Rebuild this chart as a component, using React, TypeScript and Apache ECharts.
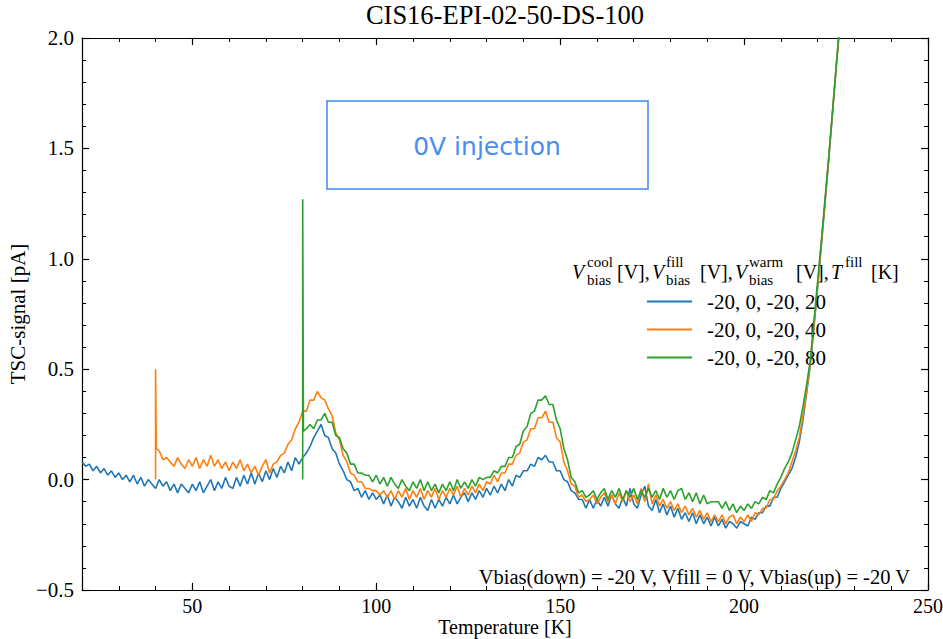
import React, { useEffect, useRef } from 'react';
import * as echarts from 'echarts';

const SERIF = '"Liberation Serif", "DejaVu Serif", serif';
const SANS = '"DejaVu Sans", sans-serif';

const chartTitle = 'CIS16-EPI-02-50-DS-100';
const xLabel = 'Temperature [K]';
const yLabel = 'TSC-signal [pA]';
const xMajorTicks = [50, 100, 150, 200, 250];
const seriesNames = ['-20, 0, -20, 20', '-20, 0, -20, 40', '-20, 0, -20, 80'];
const seriesColors = ['#1f77b4', '#ff7f0e', '#2ca02c'];
const boxText = '0V injection';
const noteText = 'Vbias(down) = -20 V, Vfill = 0 V, Vbias(up) = -20 V';

// blue: T = 20 ... 226 K, 1 K steps
const blueStart = 20;
const blueValues = [
  0.08, 0.06, 0.07, 0.04, 0.06, 0.03, 0.05, 0.02, 0.04, 0.01,
  0.03, 0.0, 0.02, -0.01, 0.02, -0.02, 0.01, -0.03, 0.0, -0.02,
  -0.04, 0.0, -0.03, -0.01, -0.05, -0.02, -0.06, -0.02, -0.04, -0.06,
  -0.02, -0.05, -0.01, -0.06, -0.03, 0.0, -0.05, -0.01, -0.04, 0.01,
  -0.03, -0.04, 0.01, -0.03, 0.02, -0.02, 0.03, -0.02, 0.03, -0.01,
  0.04, 0.0, 0.05, 0.01, 0.06, 0.03, 0.08, 0.04, 0.1, 0.07,
  0.1, 0.12, 0.15, 0.19, 0.22, 0.25, 0.2, 0.19, 0.14, 0.12,
  0.07, 0.04, 0.0, -0.01, -0.05, -0.04, -0.08, -0.05, -0.09, -0.06,
  -0.09, -0.07, -0.11, -0.07, -0.12, -0.08, -0.1, -0.13, -0.08, -0.12,
  -0.09, -0.13, -0.08, -0.12, -0.14, -0.09, -0.13, -0.09, -0.12, -0.08,
  -0.11, -0.07, -0.11, -0.08, -0.06, -0.1, -0.06, -0.09, -0.05, -0.08,
  -0.04, -0.07, -0.03, -0.06, -0.02, -0.05, 0.0, -0.03, 0.02, 0.01,
  0.04, 0.04, 0.07, 0.06, 0.1, 0.09, 0.11, 0.08, 0.08, 0.04,
  0.04, 0.0, -0.01, -0.05, -0.06, -0.09, -0.09, -0.13, -0.09, -0.13,
  -0.09, -0.12, -0.08, -0.12, -0.07, -0.11, -0.13, -0.08, -0.12, -0.04,
  -0.11, -0.13, -0.07, -0.03, -0.12, -0.14, -0.09, -0.15, -0.11, -0.16,
  -0.12, -0.17, -0.13, -0.18, -0.15, -0.19, -0.15, -0.2, -0.16, -0.2,
  -0.17, -0.21, -0.17, -0.21, -0.18, -0.22, -0.19, -0.2, -0.22, -0.19,
  -0.2, -0.21, -0.17, -0.18, -0.15, -0.15, -0.12, -0.12, -0.08, -0.08,
  -0.04, -0.01, 0.02, 0.05, 0.1, 0.17, 0.27, 0.39, 0.52, 0.69,
  0.87, 1.06, 1.25, 1.45, 1.65, 1.86, 2.06,
];

// orange: spike at 40 K, then T = 41 ... 226 K
const orangeSpike = [[40, 0.0], [40, 0.5], [40.2, 0.14]];
const orangeStart = 41;
const orangeValues = [
  0.13, 0.09, 0.1, 0.08, 0.06, 0.1, 0.07, 0.05, 0.09,
  0.06, 0.1, 0.05, 0.09, 0.06, 0.11, 0.06, 0.09, 0.05, 0.08,
  0.04, 0.08, 0.05, 0.09, 0.04, 0.07, 0.03, 0.06, 0.02, 0.06,
  0.09, 0.03, 0.07, 0.08, 0.11, 0.12, 0.16, 0.18, 0.23, 0.26,
  0.31, 0.31, 0.36, 0.36, 0.4, 0.37, 0.36, 0.32, 0.29, 0.21,
  0.18, 0.11, 0.08, 0.03, 0.02, -0.01, -0.01, -0.04, -0.04, -0.05,
  -0.05, -0.07, -0.05, -0.08, -0.05, -0.09, -0.05, -0.08, -0.04, -0.09,
  -0.05, -0.08, -0.04, -0.09, -0.05, -0.08, -0.04, -0.09, -0.05, -0.08,
  -0.04, -0.07, -0.03, -0.08, -0.04, -0.07, -0.03, -0.06, -0.02, -0.05,
  -0.01, -0.02, 0.02, -0.01, 0.03, 0.03, 0.07, 0.07, 0.11, 0.12,
  0.17, 0.18, 0.23, 0.23, 0.28, 0.28, 0.31, 0.26, 0.26, 0.19,
  0.17, 0.08, 0.04, -0.02, -0.03, -0.08, -0.07, -0.1, -0.09, -0.07,
  -0.11, -0.08, -0.06, -0.1, -0.07, -0.11, -0.06, -0.1, -0.05, -0.1,
  -0.07, -0.11, -0.04, -0.1, -0.02, -0.11, -0.07, -0.12, -0.09, -0.13,
  -0.1, -0.14, -0.11, -0.15, -0.12, -0.16, -0.13, -0.17, -0.14, -0.18,
  -0.15, -0.19, -0.16, -0.19, -0.16, -0.2, -0.17, -0.16, -0.2, -0.17,
  -0.19, -0.16, -0.19, -0.15, -0.16, -0.13, -0.13, -0.09, -0.09, -0.05,
  -0.03, 0.0, 0.03, 0.08, 0.13, 0.19, 0.29, 0.4, 0.53, 0.7,
  0.88, 1.07, 1.26, 1.45, 1.66, 1.86, 2.06,
];

// green: spike at 80 K, then T = 81 ... 226 K
const greenSpike = [[80, 0.0], [80, 1.27], [80.2, 0.22]];
const greenStart = 81;
const greenValues = [
  0.23, 0.25, 0.23, 0.27, 0.27, 0.3, 0.26, 0.26, 0.2,
  0.19, 0.14, 0.12, 0.07, 0.07, 0.03, 0.03, 0.02, 0.02, -0.01,
  0.02, -0.02, 0.01, -0.03, 0.01, -0.02, -0.04, 0.0, -0.03, -0.05,
  -0.01, -0.04, 0.0, -0.05, -0.01, -0.05, -0.02, -0.06, -0.02, -0.05,
  -0.01, -0.05, 0.0, -0.04, -0.01, -0.04, 0.0, -0.03, 0.01, 0.0,
  0.01, 0.01, 0.04, 0.03, 0.06, 0.06, 0.1, 0.1, 0.15, 0.16,
  0.22, 0.24, 0.3, 0.31, 0.36, 0.36, 0.38, 0.34, 0.34, 0.27,
  0.23, 0.14, 0.09, 0.01, -0.01, -0.06, -0.05, -0.08, -0.07, -0.05,
  -0.09, -0.06, -0.04, -0.09, -0.05, -0.08, -0.04, -0.09, -0.05, -0.08,
  -0.04, -0.09, -0.05, -0.08, -0.04, -0.08, -0.05, -0.09, -0.04, -0.08,
  -0.05, -0.09, -0.05, -0.04, -0.09, -0.06, -0.1, -0.06, -0.11, -0.07,
  -0.11, -0.1, -0.1, -0.1, -0.13, -0.1, -0.14, -0.11, -0.15, -0.12,
  -0.14, -0.11, -0.13, -0.1, -0.11, -0.08, -0.09, -0.05, -0.06, -0.02,
  0.01, 0.05, 0.08, 0.12, 0.18, 0.24, 0.33, 0.43, 0.54, 0.72,
  0.9, 1.08, 1.27, 1.46, 1.66, 1.86, 2.06,
];

const toPairs = (start: number, vals: number[]) => vals.map((v, i) => [start + i, v]);

const blueData = toPairs(blueStart, blueValues);
const orangeData = [...orangeSpike, ...toPairs(orangeStart, orangeValues)];
const greenData = [...greenSpike, ...toPairs(greenStart, greenValues)];

const axisColor = '#000';

function majorX(position: 'top' | 'bottom', withLabels: boolean) {
  return {
    type: 'value',
    position,
    min: 20,
    max: 250,
    axisLine: { show: true, onZero: false, lineStyle: { color: axisColor, width: 1.2 } },
    axisTick: { show: true, inside: true, length: 7, customValues: xMajorTicks, lineStyle: { color: axisColor, width: 1.2 } },
    axisLabel: withLabels
      ? { show: true, customValues: xMajorTicks, fontFamily: SERIF, fontSize: 20, lineHeight: 18, color: '#000', margin: 7 }
      : { show: false },
    splitLine: { show: false },
    ...(withLabels
      ? {
          name: xLabel,
          nameLocation: 'middle',
          nameGap: 28,
          nameMoveOverlap: false,
          nameTextStyle: { fontFamily: SERIF, fontSize: 20, lineHeight: 18, color: '#000' },
        }
      : {}),
  };
}

function minorX(position: 'top' | 'bottom') {
  return {
    type: 'value',
    position,
    min: 20,
    max: 250,
    interval: 10,
    axisLine: { show: false, onZero: false },
    axisTick: { show: true, inside: true, length: 4, lineStyle: { color: axisColor, width: 1 } },
    axisLabel: { show: false },
    splitLine: { show: false },
  };
}

function yAx(position: 'left' | 'right', withLabels: boolean) {
  return {
    type: 'value',
    position,
    min: -0.5,
    max: 2.0,
    interval: 0.5,
    axisLine: { show: true, onZero: false, lineStyle: { color: axisColor, width: 1.2 } },
    axisTick: { show: true, inside: true, length: 7, lineStyle: { color: axisColor, width: 1.2 } },
    minorTick: { show: true, splitNumber: 5, length: 4, lineStyle: { color: axisColor, width: 1 } },
    axisLabel: withLabels
      ? {
          show: true,
          fontFamily: SERIF,
          fontSize: 21,
          color: '#000',
          margin: 8,
          formatter: (v: number) => v.toFixed(1).replace('-', '\u2212'),
        }
      : { show: false },
    splitLine: { show: false },
    minorSplitLine: { show: false },
    ...(withLabels
      ? {
          name: yLabel,
          nameLocation: 'middle',
          nameGap: 54,
          nameRotate: 90,
          nameMoveOverlap: false,
          nameTextStyle: { fontFamily: SERIF, fontSize: 21, color: '#000' },
        }
      : {}),
  };
}

function txt(x: number, y: number, text: string, size: number, opts: any = {}) {
  return {
    type: 'text',
    x,
    y,
    silent: true,
    style: {
      text,
      fill: opts.fill || '#000',
      fontFamily: opts.family || SERIF,
      fontSize: size,
      fontStyle: opts.italic ? 'italic' : 'normal',
      align: opts.align || 'left',
      verticalAlign: 'middle',
      textAlign: opts.align || 'left',
      textVerticalAlign: 'middle',
    },
  };
}

const legendTitle = [
  txt(572, 272, 'V', 20, { italic: true }),
  txt(587, 262, 'cool', 15),
  txt(587, 280, 'bias', 15),
  txt(617, 272, '[V],', 20),
  txt(652, 272, 'V', 20, { italic: true }),
  txt(666, 262, 'fill', 15),
  txt(666, 280, 'bias', 15),
  txt(700, 272, '[V],', 20),
  txt(735, 272, 'V', 20, { italic: true }),
  txt(749, 262, 'warm', 15),
  txt(749, 280, 'bias', 15),
  txt(796, 272, '[V],', 20),
  txt(831, 272, 'T', 20, { italic: true }),
  txt(845, 262, 'fill', 15),
  txt(871, 272, '[K]', 20),
];

const option: any = {
  animation: false,
  backgroundColor: '#fff',
  title: {
    text: chartTitle,
    left: 505,
    top: 1,
    padding: 0,
    textAlign: 'center',
    textStyle: { fontFamily: SERIF, fontSize: 26.5, fontWeight: 'normal', color: '#000' },
  },
  grid: { left: 82, right: 15, top: 38, bottom: 49, containLabel: false, outerBoundsMode: 'none' },
  xAxis: [majorX('bottom', true), minorX('bottom'), majorX('top', false), minorX('top')],
  yAxis: [yAx('left', true), yAx('right', false)],
  legend: {
    orient: 'vertical',
    left: 647,
    top: 291,
    padding: 0,
    icon: 'rect',
    itemWidth: 45,
    itemHeight: 2,
    itemGap: 7,
    selectedMode: false,
    textStyle: { fontFamily: SERIF, fontSize: 21, color: '#000', lineHeight: 20, padding: [0, 0, 0, 10] },
    data: seriesNames,
  },
  series: [blueData, orangeData, greenData].map((d, i) => ({
    name: seriesNames[i],
    type: 'line',
    xAxisIndex: 0,
    yAxisIndex: 0,
    data: d,
    symbol: 'none',
    showSymbol: false,
    clip: true,
    lineStyle: { color: seriesColors[i], width: 1.6 },
    itemStyle: { color: seriesColors[i] },
    z: 2 + i,
  })),
  graphic: [
    {
      type: 'rect',
      silent: true,
      shape: { x: 327, y: 101, width: 321, height: 88 },
      style: { fill: 'none', stroke: '#3f85f2', lineWidth: 1.5 },
    },
    txt(487, 146, boxText, 25, { family: SANS, fill: '#4a8ef5', align: 'center' }),
    ...legendTitle,
    txt(910, 577, noteText, 20.5, { align: 'right' }),
  ],
};

export default function App() {
  const ref = useRef<HTMLDivElement>(null);
  useEffect(() => {
    if (!ref.current) return;
    const chart = echarts.init(ref.current, null, { renderer: 'svg' });
    chart.setOption(option);
    return () => chart.dispose();
  }, []);
  return (
    <div
      ref={ref}
      style={{ position: 'fixed', left: 0, top: 0, width: 943, height: 639, background: '#fff' }}
    />
  );
}
